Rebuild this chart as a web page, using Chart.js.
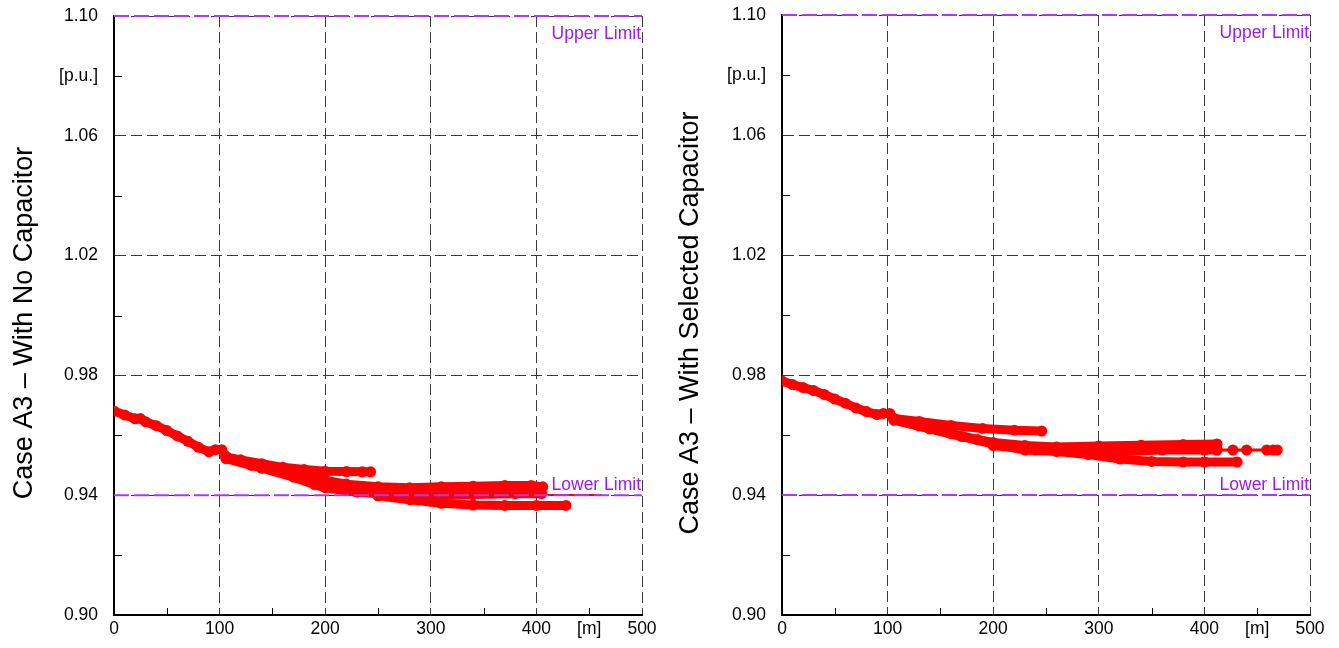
<!DOCTYPE html>
<html>
<head>
<meta charset="utf-8">
<script src="https://cdn.jsdelivr.net/npm/chart.js@4.4.0/dist/chart.umd.min.js"></script>
<style>
  html, body { margin: 0; padding: 0; background: #fff; }
  body { width: 1339px; height: 648px; position: relative; overflow: hidden; }
  .panel { position: absolute; top: 0; height: 648px; }
</style>
</head>
<body>
<div class="panel" style="left:0;width:669px"><canvas id="noCap"></canvas></div>
<div class="panel" style="left:669px;width:670px"><canvas id="withCap"></canvas></div>
<script>
// axis ticks (distance along feeder, voltage in p.u.)
const distTicks = [0, 50, 100, 150, 200, 250, 300, 350, 400, 450, 500];
const distLabels = ['0', '', '100', '', '200', '', '300', '', '400', '[m]', '500'];
const puTicks = [0.90, 0.92, 0.94, 0.96, 0.98, 1.00, 1.02, 1.04, 1.06, 1.08, 1.10];
const puLabels = ['0.90', '', '0.94', '', '0.98', '', '1.02', '', '1.06', '[p.u.]', '1.10'];

const lowerLimit = 0.94;
const upperLimit = 1.10;

// Case A3 - no capacitor, voltage along each lateral
const noCapTrunkDist = [0, 10, 20, 25, 30, 40, 50, 60, 70, 80, 90, 96, 102, 106];
const noCapTrunkVolt = [0.9681, 0.9668, 0.9655, 0.9656, 0.9645, 0.9632, 0.9616, 0.9598, 0.958, 0.956, 0.9545, 0.9552, 0.9552, 0.953];
const noCapBranch1Dist = [106, 120, 140, 160, 180, 200, 220, 235, 243];
const noCapBranch1Volt = [0.9528, 0.9518, 0.9505, 0.9493, 0.9486, 0.948, 0.9479, 0.9478, 0.9478];
const noCapBranch2Dist = [106, 130, 160, 185, 200, 220, 250, 280, 310, 340, 370, 395, 406];
const noCapBranch2Volt = [0.9525, 0.950, 0.9478, 0.9462, 0.945, 0.9437, 0.9428, 0.9425, 0.9428, 0.943, 0.9432, 0.9432, 0.9428];
const noCapBranch3Dist = [106, 140, 170, 190, 200, 230, 260, 300, 340, 380, 405];
const noCapBranch3Volt = [0.9522, 0.949, 0.946, 0.9435, 0.9425, 0.941, 0.9402, 0.940, 0.9402, 0.9405, 0.9405];
const noCapBranch4Dist = [250, 280, 310, 340, 370, 400, 428];
const noCapBranch4Volt = [0.9398, 0.9385, 0.9373, 0.9367, 0.9366, 0.9366, 0.9366];
const noCapTailDist = [405, 462];
const noCapTailVolt = [0.9401, 0.9401];

// Case A3 - selected capacitor
const capTrunkDist = [0, 10, 20, 30, 40, 50, 60, 70, 80, 90, 96, 102, 106];
const capTrunkVolt = [0.978, 0.9768, 0.9758, 0.9748, 0.9735, 0.972, 0.9706, 0.969, 0.9678, 0.9668, 0.9672, 0.9672, 0.9655];
const capBranch1Dist = [106, 130, 160, 190, 220, 246];
const capBranch1Volt = [0.9655, 0.9645, 0.9632, 0.9622, 0.9616, 0.9613];
const capBranch2Dist = [106, 130, 160, 185, 200, 230, 260, 300, 340, 380, 412];
const capBranch2Volt = [0.965, 0.963, 0.9605, 0.9585, 0.9575, 0.9565, 0.956, 0.9563, 0.9566, 0.9568, 0.957];
const capBranch3Dist = [200, 240, 280, 320, 360, 400, 412];
const capBranch3Volt = [0.9565, 0.955, 0.9545, 0.9545, 0.955, 0.955, 0.955];
const capBranch4Dist = [106, 140, 170, 200, 230, 260, 290, 320, 350, 380, 400, 431];
const capBranch4Volt = [0.965, 0.962, 0.9595, 0.957, 0.955, 0.9545, 0.9535, 0.952, 0.9512, 0.951, 0.951, 0.951];
const capTailDist = [412, 427, 440, 459, 465, 469];
const capTailVolt = [0.955, 0.955, 0.955, 0.955, 0.955, 0.955];

const FONT = "'Liberation Sans', Arial, sans-serif";
const LIMIT_COLOR = '#a43cf2';
const LIMIT_TEXT = '#9b1ee0';

function profile(dist, volt, width, radius) {
  return {
    data: dist.map((d, i) => ({ x: d, y: volt[i] })),
    showLine: true,
    borderColor: '#ff0000',
    backgroundColor: '#ff0000',
    borderWidth: width,
    pointRadius: radius,
    pointBorderWidth: 0,
    pointHoverRadius: 0,
    clip: 0,
    order: 2
  };
}

function limitLine(v) {
  return {
    data: [{ x: 0, y: v }, { x: 500, y: v }],
    showLine: true,
    borderColor: LIMIT_COLOR,
    borderWidth: 2,
    borderDash: [15, 5],
    pointRadius: 0,
    clip: false,
    order: 0
  };
}

// short inner tick marks at the unlabelled (minor) positions
const minorTicks = {
  id: 'minorTicks',
  beforeDatasetsDraw(chart) {
    const { ctx, chartArea, scales } = chart;
    ctx.save();
    ctx.strokeStyle = '#000';
    ctx.lineWidth = 1;
    ctx.beginPath();
    distTicks.forEach((v, i) => {
      if (i % 2 === 0) return;
      const x = Math.round(scales.x.getPixelForValue(v)) + 0.5;
      ctx.moveTo(x, chartArea.bottom);
      ctx.lineTo(x, chartArea.bottom - 7);
    });
    puTicks.forEach((v, i) => {
      if (i % 2 === 0) return;
      const y = Math.round(scales.y.getPixelForValue(v)) + 0.5;
      ctx.moveTo(chartArea.left, y);
      ctx.lineTo(chartArea.left + 8, y);
    });
    ctx.stroke();
    ctx.restore();
  }
};

const limitLabels = {
  id: 'limitLabels',
  afterDatasetsDraw(chart) {
    const { ctx, chartArea, scales } = chart;
    ctx.save();
    ctx.font = '17.5px ' + FONT;
    ctx.fillStyle = LIMIT_TEXT;
    ctx.textAlign = 'right';
    ctx.textBaseline = 'alphabetic';
    ctx.fillText('Upper Limit', chartArea.right - 1, scales.y.getPixelForValue(upperLimit) + 23);
    ctx.fillText('Lower Limit', chartArea.right - 1, scales.y.getPixelForValue(lowerLimit) - 5);
    ctx.restore();
  }
};

const sideTitle = {
  id: 'sideTitle',
  afterDraw(chart, args, opts) {
    const { ctx } = chart;
    ctx.save();
    ctx.translate(opts.x, opts.y);
    ctx.rotate(-Math.PI / 2);
    ctx.font = '27px ' + FONT;
    ctx.fillStyle = '#000';
    ctx.textAlign = 'center';
    ctx.textBaseline = 'alphabetic';
    ctx.fillText(opts.text, 0, 0);
    ctx.restore();
  }
};

function makeChart(id, title, pad, axisWidth, titleX, sets) {
  return new Chart(document.getElementById(id), {
    type: 'scatter',
    data: { datasets: sets },
    options: {
      responsive: true,
      maintainAspectRatio: false,
      animation: false,
      events: [],
      layout: { padding: pad },
      plugins: {
        legend: { display: false },
        tooltip: { enabled: false },
        sideTitle: { text: title, x: titleX, y: 323 }
      },
      scales: {
        x: {
          type: 'linear',
          min: 0,
          max: 500,
          afterBuildTicks: s => { s.ticks = distTicks.map(v => ({ value: v })); },
          afterFit: s => { s.height = 33; },
          ticks: {
            autoSkip: false,
            maxRotation: 0,
            padding: 4,
            color: '#000',
            font: { family: FONT, size: 17.5 },
            callback: (v, i) => distLabels[i]
          },
          grid: {
            drawTicks: false,
            lineWidth: 1,
            color: c => (c.index % 2 ? 'rgba(0,0,0,0)' : '#3a3a3a')
          },
          border: { display: true, color: '#000', width: 2, dash: [11, 5] }
        },
        y: {
          type: 'linear',
          min: 0.9,
          max: 1.1,
          afterBuildTicks: s => { s.ticks = puTicks.map(v => ({ value: v })); },
          // labels sit 16px off the axis; keep that gap out of the top inset
          afterFit: s => { s.width = axisWidth; s.paddingTop = 0; s.paddingBottom = 0; },
          ticks: {
            autoSkip: false,
            padding: 16,
            color: '#000',
            font: { family: FONT, size: 17.5 },
            callback: (v, i) => puLabels[i]
          },
          grid: {
            drawTicks: false,
            lineWidth: 1,
            color: c => (c.index % 2 ? 'rgba(0,0,0,0)' : '#3a3a3a')
          },
          border: { display: true, color: '#000', width: 2, dash: [11, 5] }
        }
      }
    },
    plugins: [minorTicks, limitLabels, sideTitle]
  });
}

makeChart('noCap', 'Case A3 \u2013 With No Capacitor',
  { top: 16, right: 27, bottom: 0, left: 0 }, 114, 32, [
    limitLine(upperLimit),
    limitLine(lowerLimit),
    profile(noCapTailDist, noCapTailVolt, 2, 0),
    profile(noCapTrunkDist, noCapTrunkVolt, 9, 5.5),
    profile(noCapBranch1Dist, noCapBranch1Volt, 9, 5.5),
    profile(noCapBranch2Dist, noCapBranch2Volt, 9, 5.5),
    profile(noCapBranch3Dist, noCapBranch3Volt, 9, 5.5),
    profile(noCapBranch4Dist, noCapBranch4Volt, 9, 5.5)
  ]);

makeChart('withCap', 'Case A3 \u2013 With Selected Capacitor',
  { top: 15, right: 29, bottom: 0, left: 0 }, 113, 29, [
    limitLine(upperLimit),
    limitLine(lowerLimit),
    profile(capTailDist, capTailVolt, 3, 5.5),
    profile(capTrunkDist, capTrunkVolt, 9, 5.5),
    profile(capBranch1Dist, capBranch1Volt, 9, 5.5),
    profile(capBranch2Dist, capBranch2Volt, 9, 5.5),
    profile(capBranch3Dist, capBranch3Volt, 9, 5.5),
    profile(capBranch4Dist, capBranch4Volt, 9, 5.5)
  ]);
</script>
</body>
</html>
